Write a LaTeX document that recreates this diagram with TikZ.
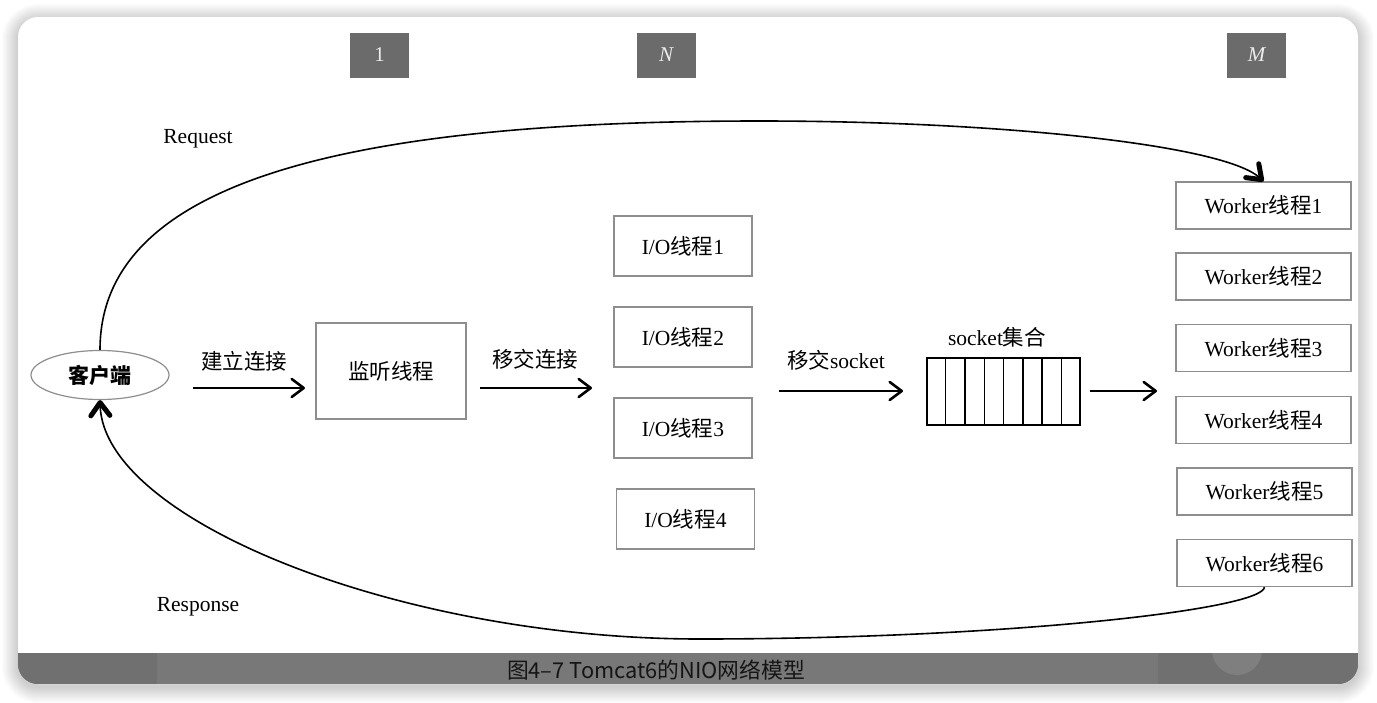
\documentclass[tikz,border=0pt]{standalone}
\usepackage{fontspec}
\setmainfont{Liberation Serif}
\newfontfamily\cjk{Noto Sans CJK SC}
\usetikzlibrary{arrows.meta,shapes.geometric,calc}
\definecolor{boxgray}{HTML}{8E8E8E}
\definecolor{labgray}{HTML}{6B6B6B}
\definecolor{labtext}{HTML}{EDEDED}
\definecolor{bargray}{HTML}{787878}
\definecolor{bardark}{HTML}{707070}
\definecolor{captext}{HTML}{151515}
\newcommand\fsz{\fontsize{21.5pt}{25pt}\selectfont}
\begin{document}
\begin{tikzpicture}[x=1pt,y=-1pt,
  tbox/.style={draw=boxgray, line width=1.3pt, fill=white, inner sep=0pt, font=\fsz},
  iobox/.style={tbox, minimum width=138pt, minimum height=60pt},
  wbox/.style={tbox, minimum width=175pt, minimum height=47pt},
  labbox/.style={fill=labgray, minimum width=59pt, minimum height=45pt, inner sep=0pt, text=labtext, font=\fontsize{21pt}{24pt}\selectfont},
  txt/.style={inner sep=0pt, font=\fsz},
  harr/.style={line width=2pt, -{Straight Barb[length=12pt,width=18pt,line width=2.6pt,round]}},
  carr/.style={line width=1.6pt, -{Straight Barb[length=13pt,width=19pt,line width=5pt,round]}}
]
\useasboundingbox (0,0) rectangle (1377,702);
\fill[white] (0,0) rectangle (1377,702);
% shadow
\foreach \i in {1,...,16}{
  \fill[black, opacity=0.012, rounded corners=20+\i] (18-\i,17-\i+3) rectangle (1358+\i,684+\i+3);
}
% card
\fill[white, rounded corners=20pt] (18,17) rectangle (1358,684);
\begin{scope}
  \clip[rounded corners=20pt] (18,17) rectangle (1358,684);
  \fill[bargray] (18,653) rectangle (1358,684);
  \fill[bardark] (18,653) rectangle (157,684);
  \fill[bardark] (1158,653) rectangle (1358,684);
  \begin{scope}
    \clip (18,653) rectangle (1358,684);
    \fill[color=bargray!95!white] (1237,650) circle (25);
  \end{scope}
\end{scope}
\node[text=captext, inner sep=0pt, font=\cjk\fontsize{21.8pt}{23pt}\selectfont] (cap) at (656,670) {图4–7 Tomcat6的NIO网络模型};

% top labels
\node[labbox] (l1) at (379.5,55) {1};
\node[labbox] (lN) at (666,55) {\itshape N};
\node[labbox] (lM) at (1256.5,55) {\itshape M};

% nodes
\node[ellipse, draw=boxgray, line width=1.2pt, fill=white, minimum width=138pt, minimum height=49pt, inner sep=0pt, font=\cjk\bfseries\fontsize{21pt}{24pt}\selectfont] (client) at (100,375) {客户端};
\node[tbox, minimum width=150pt, minimum height=96pt, font=\cjk\fsz] (listen) at (391,371) {监听线程};
\node[iobox] (io1) at (683,246) {I/O{\cjk 线程}1};
\node[iobox] (io2) at (683,337) {I/O{\cjk 线程}2};
\node[iobox] (io3) at (683,428) {I/O{\cjk 线程}3};
\node[iobox] (io4) at (685.5,519) {I/O{\cjk 线程}4};
\node[draw=black, line width=1.4pt, minimum width=153pt, minimum height=67pt, inner sep=0pt] (q) at (1003.5,391.5) {};
\foreach \k in {1,...,7}{
  \draw[line width=1.4pt] ($(q.north west)!\k/8!(q.north east)$) -- ($(q.south west)!\k/8!(q.south east)$);
}
\node[wbox] (w1) at (1263.5,205.5) {Worker{\cjk 线程}1};
\node[wbox] (w2) at (1263.5,276.5) {Worker{\cjk 线程}2};
\node[wbox] (w3) at (1263.5,348) {Worker{\cjk 线程}3};
\node[wbox] (w4) at (1263.5,420) {Worker{\cjk 线程}4};
\node[wbox] (w5) at (1264.5,491.5) {Worker{\cjk 线程}5};
\node[wbox] (w6) at (1264.5,563) {Worker{\cjk 线程}6};

% labels
\node[txt] (req) at (198,139) {Request};
\node[txt] (resp) at (198,607) {Response};
\node[txt, font=\cjk\fsz] (t1) at (244,361) {建立连接};
\node[txt, font=\cjk\fsz] (t2) at (535,359) {移交连接};
\node[txt] (t3) at (836,360) {{\cjk 移交}socket};
\node[txt] (t4) at (997,337) {socket{\cjk 集合}};

% horizontal arrows
\coordinate (a1s) at (193,388); \coordinate (a1e) at (305,388);
\coordinate (a2s) at (480,388); \coordinate (a2e) at (592,388);
\coordinate (a3s) at (779,391); \coordinate (a3e) at (903,391);
\coordinate (a4s) at (1090,391); \coordinate (a4e) at (1157,391);
\draw[harr] (a1s) -- (a1e);
\draw[harr] (a2s) -- (a2e);
\draw[harr] (a3s) -- (a3e);
\draw[harr] (a4s) -- (a4e);

% request / response curves
\coordinate (rtop) at (760,121);
\coordinate (rbot) at (700,639);
\draw[carr] (client.north) .. controls (100,180) and (350,121) .. (rtop)
  .. controls (1000,121) and (1225,145) .. (w1.north);
\draw[carr] (w6.south) .. controls (1262,610) and (1000,639) .. (rbot)
  .. controls (400,639) and (103,520) .. (client.south);
\end{tikzpicture}
\end{document}
